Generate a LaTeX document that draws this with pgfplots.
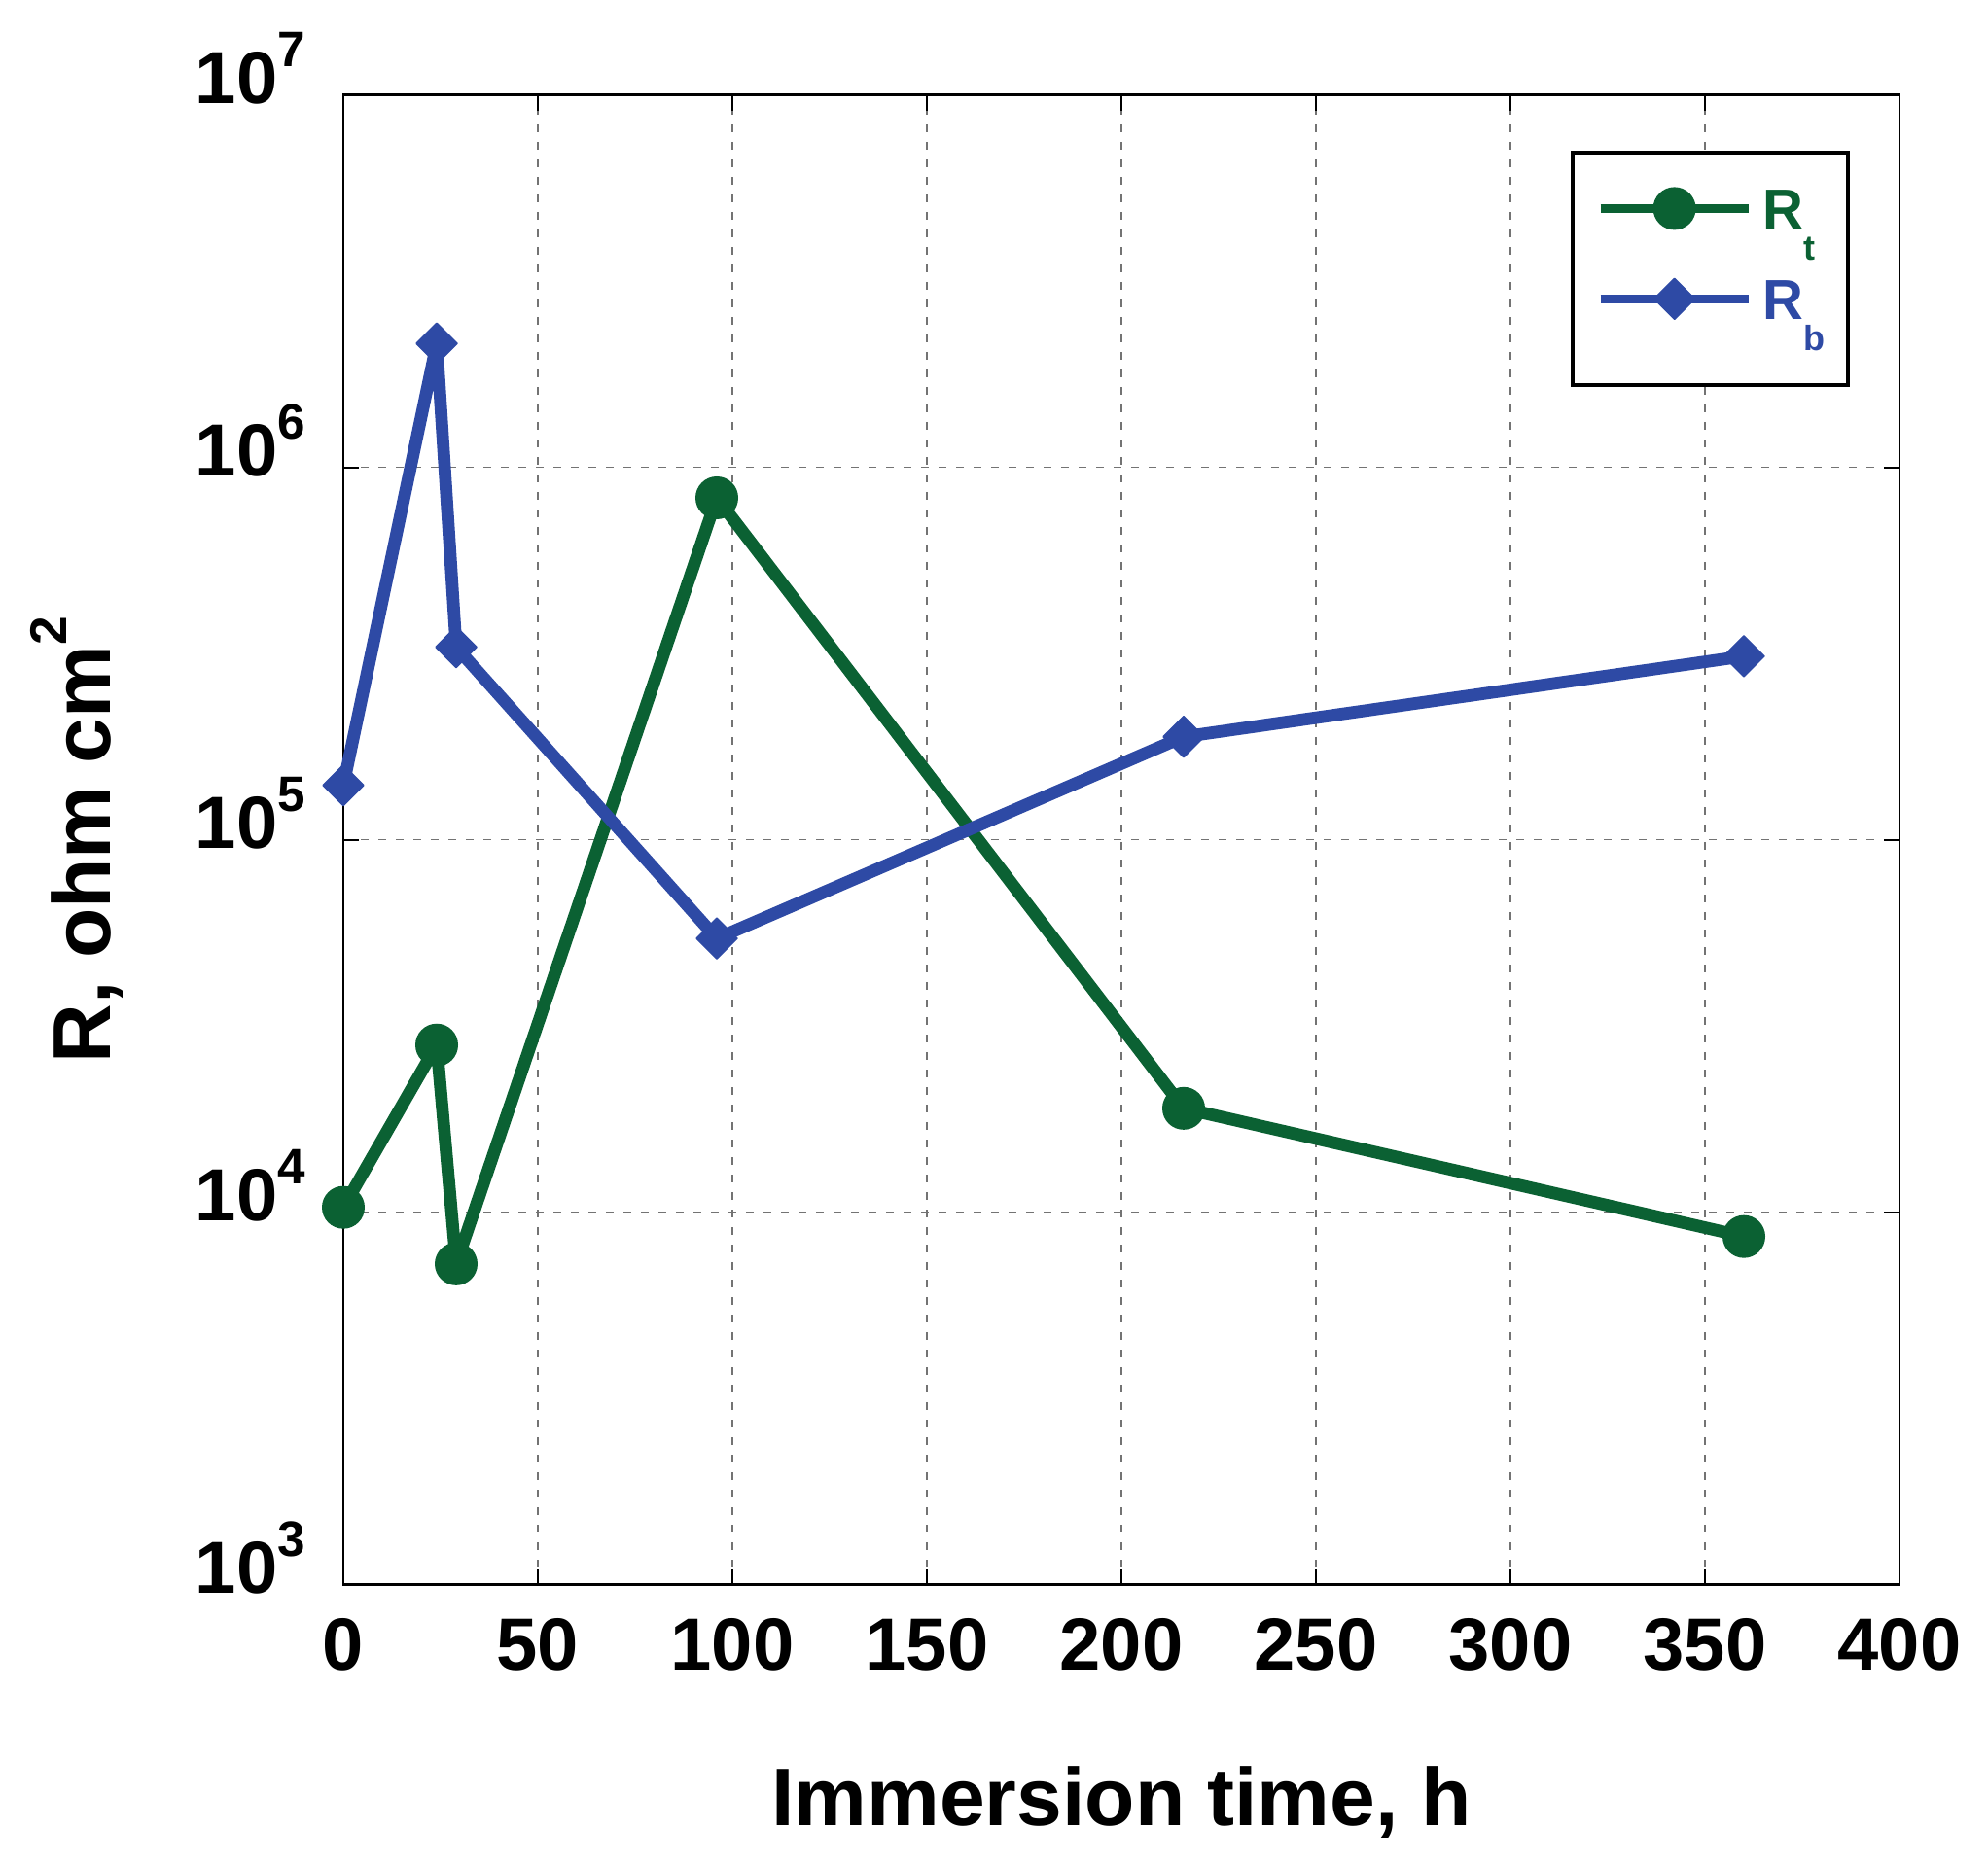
\documentclass[border=0pt]{standalone}
\usepackage{fontspec}
\setmainfont{Liberation Sans}
\usepackage{pgfplots}
\pgfplotsset{compat=1.18}
\definecolor{cgreen}{HTML}{0B6133}
\definecolor{cblue}{HTML}{2E4AA5}
\newcommand\tp[1]{10\raisebox{9.5pt}{\fontsize{12.8}{12.8}\selectfont #1}}
\begin{document}
\begin{tikzpicture}
\useasboundingbox (0,0) rectangle (511pt,479pt);
\begin{axis}[
  at={(88.25pt,71.6pt)}, anchor=south west,
  scale only axis, width=400pt, height=383pt,
  xmin=0, xmax=400, ymode=log, ymin=1e3, ymax=1e7,
  clip=false,
  xtick={0,50,...,400}, xticklabels={0,50,100,150,200,250,300,350,400},
  ytick={1e3,1e4,1e5,1e6,1e7}, yticklabels={\tp{3},\tp{4},\tp{5},\tp{6},\tp{7}},
  yminorticks=false,
  grid=major,
  major grid style={dash pattern=on 2pt off 2.5pt, line width=0.45pt, black!55},
  axis line style={line width=0.6pt, black},
  tick align=inside, major tick length=4pt, tick style={line width=0.5pt, black},
  xticklabel style={font=\fontsize{19}{19}\selectfont\bfseries, anchor=north, inner sep=0pt, yshift=-8.4pt},
  yticklabel style={font=\fontsize{19}{19}\selectfont\bfseries, anchor=base east, inner sep=0pt, xshift=-9.6pt, yshift=-2.25pt},
  xlabel={Immersion time, h},
  xlabel style={font=\fontsize{21}{21}\selectfont\bfseries, at={(axis description cs:0.5,0)}, anchor=base, yshift=-62pt},
  ylabel={R, ohm cm\raisebox{11.25pt}{\fontsize{13.3}{13.3}\selectfont 2}},
  ylabel style={font=\fontsize{21}{21}\selectfont\bfseries, at={(axis description cs:-0.15,0.5)}, anchor=base},
  legend style={at={(axis description cs:1,1)}, anchor=north east, xshift=-12.75pt, yshift=-14.4pt,
    draw=black, line width=1pt, inner xsep=6pt, inner ysep=9pt,
    row sep=4.8pt, column sep=2.5pt, nodes={inner sep=0pt, text height=10.4pt, text depth=8pt},
    cells={anchor=base west}, font=\fontsize{14.5}{14.5}\selectfont\bfseries},
  legend image code/.code={\draw[mark repeat=2,mark phase=2,#1,line width=2.25pt] plot coordinates {(0pt,5.2pt) (19pt,5.2pt) (38pt,5.2pt)};},
]
\addplot[cgreen, line width=3.2pt, line join=round, mark=*, mark size=5.3pt, mark options={line width=0.4pt}]
  coordinates {(0,10300) (24,28100) (29,7260) (96,828000) (216,19000) (360,8600)};
\addlegendentry{\textcolor{cgreen}{R\raisebox{-8pt}{\fontsize{9}{9}\selectfont t}}}
\addplot[cblue, line width=3.2pt, line join=round, mark=square*, mark size=3.7pt, mark options={rotate=45, line width=0.4pt}]
  coordinates {(0,140000) (24,2150000) (29,329000) (96,54300) (216,189000) (360,311000)};
\addlegendentry{\textcolor{cblue}{R\raisebox{-8pt}{\fontsize{9}{9}\selectfont b}}}
\end{axis}
\end{tikzpicture}
\end{document}
